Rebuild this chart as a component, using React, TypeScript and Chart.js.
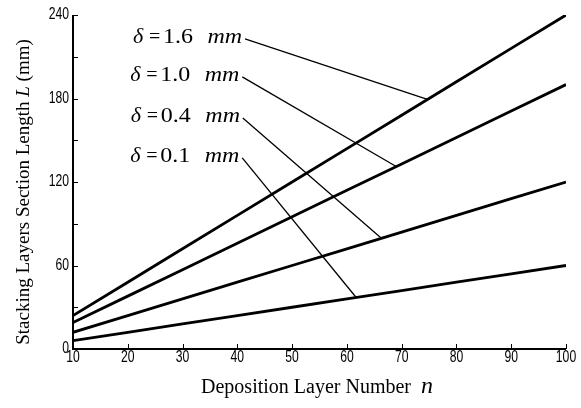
import React, { useEffect, useRef } from "react";
import { Chart, registerables } from "chart.js";

Chart.register(...registerables);

// ---- data ----
const layerNumbers = [10, 20, 30, 40, 50, 60, 70, 80, 90, 100];
const deltaLabels = ["1.6", "1.0", "0.4", "0.1"];
const lengthDelta16 = [24, 48, 72, 96, 120, 144, 168, 192, 216, 240];
const lengthDelta10 = [19, 38, 57, 76, 95, 114, 133, 152, 171, 190];
const lengthDelta04 = [12, 24, 36, 48, 60, 72, 84, 96, 108, 120];
const lengthDelta01 = [6, 12, 18, 24, 30, 36, 42, 48, 54, 60];
const seriesValues = [lengthDelta16, lengthDelta10, lengthDelta04, lengthDelta01];
const yTickLabels = ["0", "60", "120", "180", "240"];
// leader lines (data coordinates): label anchor -> point on curve
const leaderStartN = [41.4, 40.9, 41.0, 40.9];
const leaderStartL = [222.8, 195.5, 166.0, 137.3];
const leaderEndN = [74.7, 69.0, 66.3, 61.7];
const leaderEndL = [179.3, 131.1, 79.6, 37.0];

const SERIF = '"Liberation Serif", "Times New Roman", serif';
const SANS = '"Liberation Sans", Arial, sans-serif';

function narrowText(ctx: any, txt: string, x: number, y: number, align: string) {
  ctx.save();
  ctx.font = "16px " + SANS;
  ctx.textBaseline = "middle";
  ctx.textAlign = align;
  ctx.translate(x, y);
  ctx.scale(0.76, 1);
  ctx.fillText(txt, 0, 0);
  ctx.restore();
}

const overlayPlugin = {
  id: "overlay",
  afterDraw(chart: any) {
    const { ctx, chartArea, scales } = chart;
    const { left, right, top, bottom } = chartArea;
    const xs = scales.x;
    const ys = scales.y;
    ctx.save();
    ctx.strokeStyle = "#000";
    ctx.fillStyle = "#000";
    // axis lines
    ctx.lineWidth = 2;
    ctx.beginPath();
    ctx.moveTo(left, top);
    ctx.lineTo(left, bottom);
    ctx.lineTo(right, bottom);
    ctx.stroke();
    // inside ticks
    ctx.lineWidth = 1;
    ctx.beginPath();
    xs.ticks.forEach((t: any) => {
      const px = Math.round(xs.getPixelForValue(t.value)) + 0.5;
      ctx.moveTo(px, bottom);
      ctx.lineTo(px, bottom - 5);
    });
    ys.ticks.forEach((t: any) => {
      const py = Math.round(ys.getPixelForValue(t.value)) + 0.5;
      ctx.moveTo(left, py);
      ctx.lineTo(left + 5, py);
    });
    ctx.stroke();

    // tick labels (condensed)
    layerNumbers.forEach((n) => {
      narrowText(ctx, String(n), xs.getPixelForValue(n), bottom + 9, "center");
    });
    yTickLabels.forEach((lab) => {
      narrowText(ctx, lab, left - 4, ys.getPixelForValue(Number(lab)), "right");
    });

    // leader lines + labels
    ctx.lineWidth = 1.3;
    deltaLabels.forEach((lab, i) => {
      const sx = xs.getPixelForValue(leaderStartN[i]);
      const sy = ys.getPixelForValue(leaderStartL[i]);
      const ex = xs.getPixelForValue(leaderEndN[i]);
      const ey = ys.getPixelForValue(leaderEndL[i]);
      ctx.beginPath();
      ctx.moveTo(sx, sy);
      ctx.lineTo(ex, ey);
      ctx.stroke();
      const x0 = sx - 112;
      const base = sy + 4;
      const pieces: [string, number, string, number][] = [
        ["\u03B4", 0, "italic 20px " + SERIF, 1.1],
        ["=", 16, "20px " + SERIF, 1.0],
        [lab, 30, "20px " + SERIF, 1.2],
        ["mm", 74.5, "italic 20px " + SERIF, 1.2],
      ];
      ctx.textBaseline = "alphabetic";
      ctx.textAlign = "left";
      pieces.forEach(([txt, off, font, sc]) => {
        ctx.save();
        ctx.font = font;
        ctx.translate(x0 + off, base);
        ctx.scale(sc, 1);
        ctx.fillText(txt, 0, 0);
        ctx.restore();
      });
    });

    // x title
    ctx.textBaseline = "middle";
    const xt1 = "Deposition Layer Number  ";
    ctx.font = "20px " + SERIF;
    const w1 = ctx.measureText(xt1).width;
    ctx.font = "italic 24px " + SERIF;
    const w2 = ctx.measureText("n").width;
    const xStart = 317 - (w1 + w2) / 2;
    ctx.font = "20px " + SERIF;
    ctx.textAlign = "left";
    ctx.fillText(xt1, xStart, 388);
    ctx.font = "italic 24px " + SERIF;
    ctx.fillText("n", xStart + w1, 387);

    // y title (rotated)
    ctx.save();
    ctx.translate(24, 192);
    ctx.rotate(-Math.PI / 2);
    const parts: [string, string][] = [
      ["Stacking Layers Section Length ", "19px " + SERIF],
      ["L", "italic 19px " + SERIF],
      [" (mm)", "19px " + SERIF],
    ];
    let total = 0;
    parts.forEach(([t, f]) => {
      ctx.font = f;
      total += ctx.measureText(t).width;
    });
    let cx = -total / 2;
    parts.forEach(([t, f]) => {
      ctx.font = f;
      ctx.fillText(t, cx, 0);
      cx += ctx.measureText(t).width;
    });
    ctx.restore();

    ctx.restore();
  },
};

export default function App() {
  const canvasRef = useRef<HTMLCanvasElement | null>(null);

  useEffect(() => {
    if (!canvasRef.current) return;
    const chart = new Chart(canvasRef.current, {
      type: "line",
      data: {
        datasets: seriesValues.map((vals, i) => ({
          label: "δ = " + deltaLabels[i] + " mm",
          data: layerNumbers.map((n, j) => ({ x: n, y: vals[j] })),
          borderColor: "#000",
          backgroundColor: "#000",
          borderWidth: 2.8,
          pointRadius: 0,
          tension: 0,
          fill: false,
        })),
      },
      options: {
        animation: false,
        responsive: false,
        layout: { padding: { top: 15, right: 15, left: 0, bottom: 0 } },
        plugins: {
          legend: { display: false },
          tooltip: { enabled: false },
          title: { display: false },
        },
        scales: {
          x: {
            type: "linear",
            min: 10,
            max: 100,
            ticks: { stepSize: 10, display: false, autoSkip: false },
            grid: { display: false, drawTicks: false },
            border: { display: false },
            afterFit: (s: any) => {
              s.height = 59;
            },
          },
          y: {
            type: "linear",
            min: 0,
            max: 240,
            ticks: { stepSize: 30, display: false, autoSkip: false },
            grid: { display: false, drawTicks: false },
            border: { display: false },
            afterFit: (s: any) => {
              s.width = 73;
            },
          },
        },
      },
      plugins: [overlayPlugin],
    } as any);
    return () => chart.destroy();
  }, []);

  return (
    <div style={{ position: "fixed", left: 0, top: 0, width: 581, height: 408, background: "#fff" }}>
      <canvas ref={canvasRef} width={581} height={408} style={{ display: "block" }} />
    </div>
  );
}
